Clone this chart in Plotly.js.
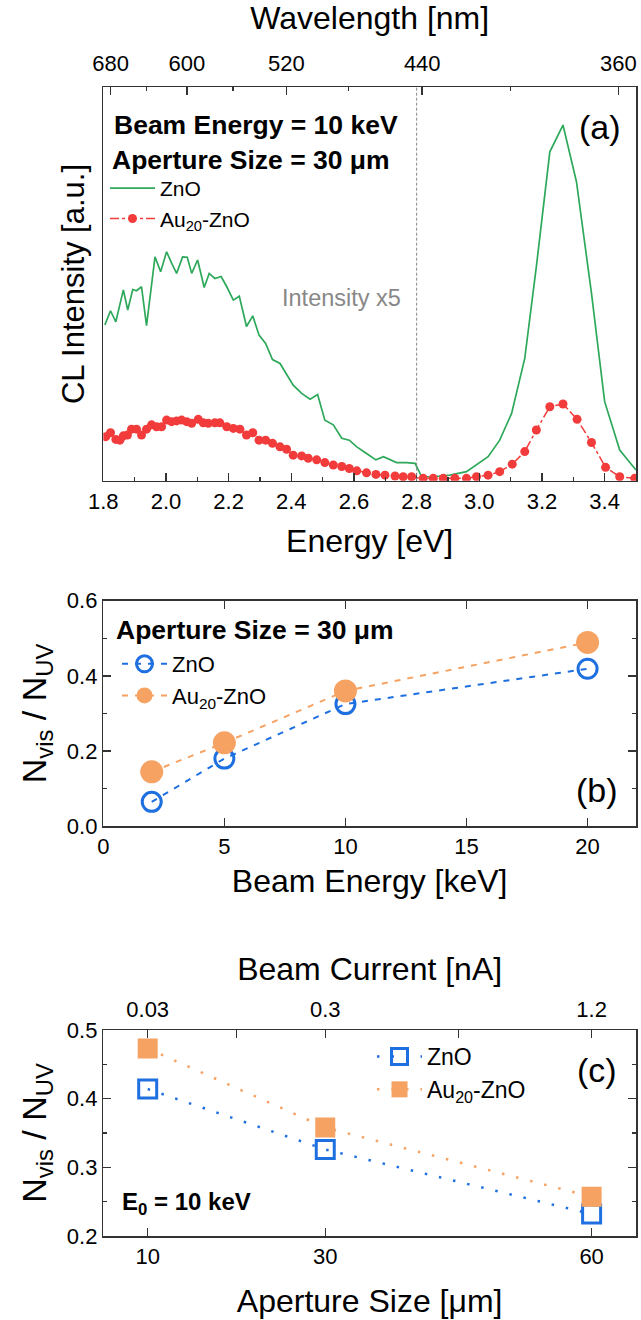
<!DOCTYPE html>
<html><head><meta charset="utf-8">
<script src="https://cdn.plot.ly/plotly-3.0.1.min.js"></script>
<style>html,body{margin:0;padding:0;background:#fff}</style>
</head><body><div id="chart" style="width:641px;height:1320px"></div>
<script>
// ---------- Panel (a): CL spectra ----------
const znoEnergy = [1.805,1.823,1.840,1.864,1.878,1.894,1.906,1.922,1.938,1.965,1.983,2.002,2.018,2.034,2.053,2.068,2.082,2.101,2.122,2.138,2.156,2.176,2.194,2.215,2.234,2.257,2.277,2.297,2.318,2.340,2.364,2.385,2.406,2.433,2.460,2.484,2.507,2.534,2.561,2.585,2.609,2.640,2.670,2.694,2.715,2.736,2.768,2.795,2.816,2.853,2.906,2.959,3.028,3.065,3.103,3.145,3.182,3.225,3.267,3.310,3.358,3.400,3.448,3.500];
const znoIntensity = [39.6,43.2,40.4,48.5,43.4,48.6,48.3,49.3,39.4,56.9,53.1,58.2,55.3,52.7,56.9,56.8,52.7,56.1,49.1,52.7,51.4,51.9,49.3,45.9,46.9,39.2,41.9,37.0,34.9,30.8,29.8,26.9,24.3,22.2,20.7,21.9,15.4,14.2,10.8,10.3,8.6,6.9,5.3,6.1,5.3,4.6,4.6,4.4,1.0,1.0,1.4,2.3,6.1,10.3,17.1,31.1,54.4,83.6,90.4,76.0,47.6,20.1,7.8,2.7];
const auEnergy = [1.808,1.823,1.840,1.853,1.864,1.877,1.890,1.906,1.922,1.938,1.954,1.970,1.986,2.002,2.018,2.034,2.050,2.066,2.082,2.103,2.119,2.135,2.156,2.172,2.194,2.215,2.236,2.257,2.277,2.297,2.318,2.340,2.364,2.385,2.406,2.433,2.454,2.481,2.507,2.534,2.561,2.585,2.609,2.640,2.670,2.699,2.731,2.757,2.784,2.821,2.853,2.885,2.922,2.959,2.991,3.028,3.065,3.105,3.145,3.182,3.225,3.267,3.312,3.358,3.403,3.448,3.496];
const auIntensity = [11.2,12.2,10.5,10.3,11.4,11.6,13.1,13.1,11.6,13.1,14.2,13.7,13.7,15.4,15.0,15.2,15.4,15.0,14.6,15.6,14.7,14.6,14.7,14.7,13.7,13.3,13.1,11.6,12.2,10.3,10.3,9.5,8.6,8.0,6.5,6.3,5.7,5.3,4.6,4.0,3.6,3.1,2.5,2.0,1.6,1.4,1.2,1.0,1.0,0.6,0.6,0.6,0.6,0.6,1.0,1.4,2.3,4.2,7.4,12.9,18.8,19.5,15.6,9.7,3.4,1.0,0.6];
const wavelengthTicksNm = [680,600,520,440,360];
const wavelengthMinorNm = [640,560,480,400];
const dividerEnergy = 2.8;
const energyRange = [1.8,3.5];

// ---------- Panel (b): ratio vs beam energy ----------
const beamEnergyKeV = [2,5,10,20];
const ratioZnOvsEnergy = [0.065,0.180,0.325,0.419];
const ratioAuvsEnergy = [0.145,0.222,0.360,0.489];

// ---------- Panel (c): ratio vs aperture ----------
const apertureUm = [10,30,60];
const ratioZnOvsAperture = [0.414,0.326,0.232];
const ratioAuvsAperture = [0.473,0.358,0.257];
const beamCurrentLabels = ['0.03','0.3','1.2'];
const beamCurrentMinorPos = [20,45];

const HC = 1239.84; // eV*nm
const W = 641, H = 1320;
const px = v => v / W;
const py = v => 1 - v / H;
const L = 103.3, R = 636;
const AX = '#333';
const GREEN = '#2EA85A', RED = '#F23B3B', BLUE = '#1E6FE0', ORANGE = '#F5A262';
const FONT = 'Liberation Sans, Arial, sans-serif';
const TITLE = 32;

function axisBase(extra) {
  return Object.assign({
    showline: true, linecolor: AX, linewidth: 1.5,
    ticks: 'inside', ticklen: 8, tickwidth: 1.5, tickcolor: AX,
    showgrid: false, zeroline: false,
    tickfont: {size: 22, color: '#000'}
  }, extra);
}
function minorTicks(extra) {
  return Object.assign({ticks: 'inside', ticklen: 4, tickwidth: 1.5, tickcolor: AX, showgrid: false}, extra);
}

const traces = [
  {x: znoEnergy, y: znoIntensity, type: 'scatter', mode: 'lines', name: 'ZnO',
   line: {color: GREEN, width: 1.7}, xaxis: 'x', yaxis: 'y', legend: 'legend'},
  {x: auEnergy, y: auIntensity, type: 'scatter', mode: 'lines+markers', name: 'Au<sub>20</sub>-ZnO',
   line: {color: RED, width: 1.5, dash: 'dashdot'}, marker: {color: RED, size: 9},
   xaxis: 'x', yaxis: 'y', legend: 'legend'},
  {x: [], y: [], type: 'scatter', mode: 'lines', xaxis: 'x2', yaxis: 'y', showlegend: false, hoverinfo: 'skip'},

  {x: beamEnergyKeV, y: ratioZnOvsEnergy, type: 'scatter', mode: 'lines+markers', name: 'ZnO',
   line: {color: BLUE, width: 2, dash: '6px,7px'},
   marker: {symbol: 'circle-open', size: 19, color: BLUE, line: {width: 3, color: BLUE}},
   xaxis: 'x3', yaxis: 'y2', legend: 'legend2'},
  {x: beamEnergyKeV, y: ratioAuvsEnergy, type: 'scatter', mode: 'lines+markers', name: 'Au<sub>20</sub>-ZnO',
   line: {color: ORANGE, width: 2, dash: '6px,7px'},
   marker: {symbol: 'circle', size: 23, color: ORANGE},
   xaxis: 'x3', yaxis: 'y2', legend: 'legend2'},

  {x: apertureUm, y: ratioZnOvsAperture, type: 'scatter', mode: 'lines+markers', name: 'ZnO',
   line: {color: BLUE, width: 2.5, dash: '2.5px,12px'},
   marker: {symbol: 'square-open', size: 18, color: BLUE, line: {width: 3, color: BLUE}},
   xaxis: 'x4', yaxis: 'y3', legend: 'legend3'},
  {x: apertureUm, y: ratioAuvsAperture, type: 'scatter', mode: 'lines+markers', name: 'Au<sub>20</sub>-ZnO',
   line: {color: ORANGE, width: 2.5, dash: '2.5px,12px'},
   marker: {symbol: 'square', size: 20, color: ORANGE},
   xaxis: 'x4', yaxis: 'y3', legend: 'legend3'},
  {x: [], y: [], type: 'scatter', mode: 'lines', xaxis: 'x5', yaxis: 'y3', showlegend: false, hoverinfo: 'skip'}
];

const layout = {
  width: W, height: H,
  margin: {l: 0, r: 0, t: 0, b: 0},
  paper_bgcolor: '#fff', plot_bgcolor: '#fff',
  font: {family: FONT, color: '#000'},
  showlegend: true,

  // Panel (a)
  xaxis: axisBase({
    domain: [px(L), px(R)], anchor: 'y', range: energyRange,
    tick0: 1.8, dtick: 0.2, tickformat: '.1f', mirror: false,
    minor: minorTicks({tick0: 1.8, dtick: 0.1}),
    title: {text: 'Energy [eV]', font: {size: TITLE}, standoff: 17}
  }),
  xaxis2: axisBase({
    overlaying: 'x', anchor: 'y', side: 'top', range: energyRange,
    tickmode: 'array', tickvals: wavelengthTicksNm.map(nm => HC / nm), ticktext: wavelengthTicksNm.map(String),
    ticklabelstandoff: 6,
    minor: minorTicks({tickmode: 'array', tickvals: wavelengthMinorNm.map(nm => HC / nm)}),
    title: {text: 'Wavelength [nm]', font: {size: TITLE}, standoff: 12}
  }),
  yaxis: axisBase({
    domain: [py(480.7), py(87.3)], anchor: 'x', range: [0, 100],
    showticklabels: false, ticks: '', mirror: true,
    title: {text: 'CL Intensity [a.u.]', font: {size: 31}, standoff: 8}
  }),

  // Panel (b)
  xaxis3: axisBase({
    domain: [px(L), px(R)], anchor: 'y2', range: [0, 22], dtick: 5, mirror: 'ticks',
    title: {text: 'Beam Energy [keV]', font: {size: TITLE}, standoff: 11}
  }),
  yaxis2: axisBase({
    domain: [py(826.3), py(600.7)], anchor: 'x3', range: [0, 0.6], dtick: 0.2, tickformat: '.1f', mirror: 'ticks',
    minor: minorTicks({dtick: 0.1}),
    title: {text: 'N<sub>vis</sub> / N<sub>UV</sub>', font: {size: 34}, standoff: 10}
  }),

  // Panel (c)
  xaxis4: axisBase({
    domain: [px(L), px(R)], anchor: 'y3', range: [5, 65], tickmode: 'array', tickvals: apertureUm,
    ticktext: apertureUm.map(String), mirror: false,
    title: {text: 'Aperture Size [μm]', font: {size: TITLE}, standoff: 21}
  }),
  xaxis5: axisBase({
    overlaying: 'x4', anchor: 'y3', side: 'top', range: [5, 65], tickmode: 'array',
    tickvals: apertureUm, ticktext: beamCurrentLabels, ticklabelstandoff: 3,
    minor: minorTicks({tickmode: 'array', tickvals: beamCurrentMinorPos, ticklen: 8}),
    title: {text: 'Beam Current [nA]', font: {size: TITLE}, standoff: 6}
  }),
  yaxis3: axisBase({
    domain: [py(1236), py(1030)], anchor: 'x4', range: [0.2, 0.5], dtick: 0.1, tickformat: '.1f', mirror: 'ticks',
    minor: minorTicks({dtick: 0.05}),
    title: {text: 'N<sub>vis</sub> / N<sub>UV</sub>', font: {size: 34}, standoff: 10}
  }),

  legend: {x: px(105), xanchor: 'left', y: py(168), yanchor: 'top', bgcolor: 'rgba(0,0,0,0)',
           font: {size: 21}, tracegroupgap: 0, itemwidth: 45},
  legend2: {x: px(117), xanchor: 'left', y: py(643), yanchor: 'top', bgcolor: 'rgba(0,0,0,0)',
            font: {size: 22}, tracegroupgap: 0, itemwidth: 45},
  legend3: {x: px(372), xanchor: 'left', y: py(1035), yanchor: 'top', bgcolor: 'rgba(0,0,0,0)',
            font: {size: 23}, tracegroupgap: 0, itemwidth: 45},

  shapes: [
    {type: 'line', xref: 'x', yref: 'y domain', x0: dividerEnergy, x1: dividerEnergy, y0: 0, y1: 1,
     line: {color: '#888', width: 1, dash: '3px,2px'}}
  ],

  annotations: [
    {text: '<b>Beam Energy = 10 keV</b>', xref: 'paper', yref: 'paper', x: px(112), y: py(125),
     xanchor: 'left', yanchor: 'middle', showarrow: false, font: {size: 26.5}},
    {text: '<b>Aperture Size = 30 μm</b>', xref: 'paper', yref: 'paper', x: px(110), y: py(160),
     xanchor: 'left', yanchor: 'middle', showarrow: false, font: {size: 26.5}},
    {text: 'Intensity x5', xref: 'paper', yref: 'paper', x: px(280), y: py(298),
     xanchor: 'left', yanchor: 'middle', showarrow: false, font: {size: 23.5, color: '#888'}},
    {text: '(a)', xref: 'paper', yref: 'paper', x: px(623), y: py(127),
     xanchor: 'right', yanchor: 'middle', showarrow: false, font: {size: 34}},
    {text: '<b>Aperture Size = 30 μm</b>', xref: 'paper', yref: 'paper', x: px(114), y: py(630),
     xanchor: 'left', yanchor: 'middle', showarrow: false, font: {size: 26.5}},
    {text: '(b)', xref: 'paper', yref: 'paper', x: px(620), y: py(790),
     xanchor: 'right', yanchor: 'middle', showarrow: false, font: {size: 34}},
    {text: '(c)', xref: 'paper', yref: 'paper', x: px(619), y: py(1070),
     xanchor: 'right', yanchor: 'middle', showarrow: false, font: {size: 34}},
    {text: '<b>E<sub>0</sub> = 10 keV</b>', xref: 'paper', yref: 'paper', x: px(120), y: py(1203),
     xanchor: 'left', yanchor: 'middle', showarrow: false, font: {size: 24}}
  ]
};

Plotly.newPlot('chart', traces, layout, {displayModeBar: false, staticPlot: true});
</script>
</body></html>
